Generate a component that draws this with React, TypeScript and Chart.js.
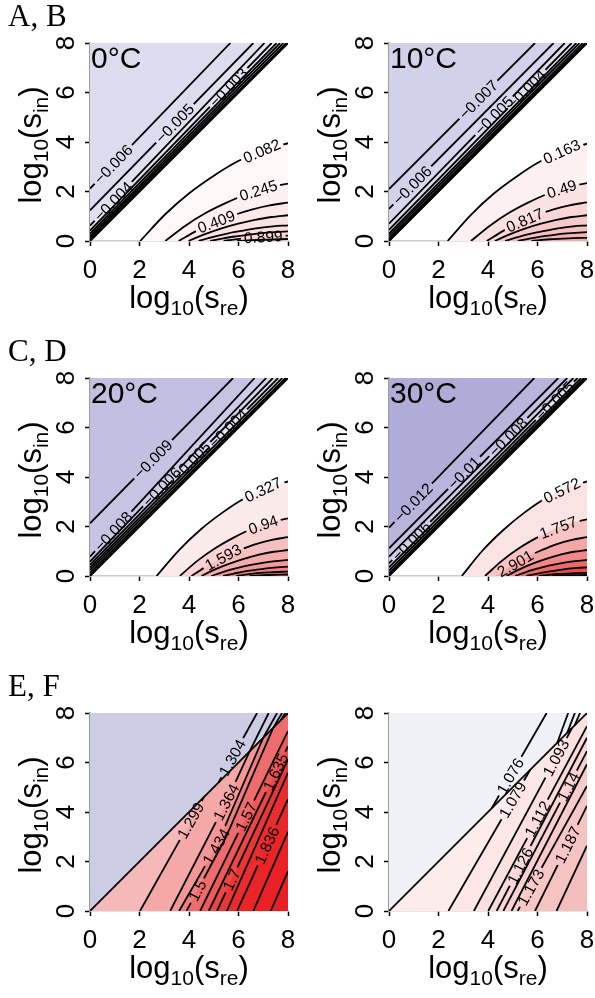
import React, { useEffect, useRef } from 'react';
import { Chart, registerables } from 'chart.js';
Chart.register(...registerables);

type Pt = [number, number];
type Lab = { set: 'b' | 'r' | 'l' | 'u'; i: number; x: number; text: string };

const TICKS = [0, 2, 4, 6, 8];
const TICK_LABELS = ['0', '2', '4', '6', '8'];
const DIAG: Pt[] = [[0, 0], [8, 8]];

// ---------- Panel A (0°C) ----------
const A_BLUE_LEFT = [2.12, 1.24, 0.62, 0.42, 0.3, 0.2, 0.12, 0.04];
const A_BLUE_TOP = [5.67, 6.6, 7.05, 7.34, 7.54, 7.68, 7.81, 7.93];
const A_RED: Pt[][] = [
  [[2.03, 0], [3.03, 1.07], [4.02, 1.94], [5.02, 2.65], [6.01, 3.24], [7.01, 3.67], [8, 3.95]],
  [[3.04, 0], [3.87, 0.63], [4.69, 1.14], [5.52, 1.55], [6.35, 1.9], [7.17, 2.16], [8, 2.32]],
  [[3.58, 0], [4.32, 0.42], [5.05, 0.76], [5.79, 1.04], [6.53, 1.27], [7.26, 1.44], [8, 1.55]],
  [[3.98, 0], [4.65, 0.28], [5.32, 0.51], [5.99, 0.7], [6.66, 0.85], [7.33, 0.97], [8, 1.04]],
  [[4.38, 0], [4.98, 0.17], [5.59, 0.31], [6.19, 0.42], [6.79, 0.52], [7.4, 0.59], [8, 0.63]],
  [[4.85, 0], [5.38, 0.11], [5.9, 0.19], [6.43, 0.26], [6.95, 0.32], [7.48, 0.36], [8, 0.39]],
  [[5.4, 0], [6.05, 0.09], [6.7, 0.15], [7.35, 0.19], [8, 0.22]],
  [[5.94, 0], [6.97, 0.05], [8, 0.08]],
];
const A_LABELS: Lab[] = [
  { set: 'b', i: 0, x: 0.94, text: '−0.006' },
  { set: 'b', i: 1, x: 3.43, text: '−0.005' },
  { set: 'b', i: 2, x: 0.94, text: '−0.004' },
  { set: 'b', i: 3, x: 5.6, text: '−0.003' },
  { set: 'r', i: 0, x: 6.94, text: '0.082' },
  { set: 'r', i: 1, x: 6.8, text: '0.245' },
  { set: 'r', i: 2, x: 5.1, text: '0.409' },
  { set: 'r', i: 6, x: 7.0, text: '0.899' },
];

// ---------- Panel B (10°C) ----------
const B_BLUE_LEFT = [2.1, 1.3, 0.7, 0.45, 0.3, 0.2, 0.1, 0.03];
const B_BLUE_TOP = [5.9, 6.65, 7.1, 7.38, 7.57, 7.7, 7.83, 7.93];
const B_RED: Pt[][] = [
  [[2.37, 0], [3.31, 1.06], [4.25, 1.93], [5.19, 2.63], [6.12, 3.22], [7.06, 3.65], [8, 3.93]],
  [[3.31, 0], [4.09, 0.63], [4.87, 1.15], [5.66, 1.57], [6.44, 1.92], [7.22, 2.18], [8, 2.34]],
  [[3.95, 0], [4.63, 0.42], [5.3, 0.76], [5.98, 1.05], [6.65, 1.28], [7.33, 1.45], [8, 1.56]],
  [[4.28, 0], [4.9, 0.28], [5.52, 0.51], [6.14, 0.7], [6.76, 0.85], [7.38, 0.97], [8, 1.04]],
  [[4.69, 0], [5.24, 0.17], [5.79, 0.31], [6.35, 0.42], [6.9, 0.52], [7.45, 0.59], [8, 0.63]],
  [[5.2, 0], [5.67, 0.1], [6.13, 0.18], [6.6, 0.24], [7.07, 0.3], [7.53, 0.33], [8, 0.36]],
  [[5.76, 0], [6.5, 0.07], [7.25, 0.11], [8, 0.13]],
];
const B_LABELS: Lab[] = [
  { set: 'b', i: 0, x: 3.61, text: '−0.007' },
  { set: 'b', i: 1, x: 0.94, text: '−0.006' },
  { set: 'b', i: 2, x: 4.24, text: '−0.005' },
  { set: 'b', i: 3, x: 5.56, text: '−0.004' },
  { set: 'r', i: 0, x: 6.98, text: '0.163' },
  { set: 'r', i: 1, x: 6.98, text: '0.49' },
  { set: 'r', i: 2, x: 5.49, text: '0.817' },
];

// ---------- Panel C (20°C) ----------
const C_BLUE_LEFT = [2.13, 0.78, 0.58, 0.45, 0.34, 0.24, 0.13, 0.04];
const C_BLUE_TOP = [5.78, 6.65, 7.12, 7.39, 7.6, 7.77, 7.9, 7.96];
const C_RED: Pt[][] = [
  [[2.69, 0], [3.58, 1.03], [4.46, 1.87], [5.35, 2.56], [6.23, 3.13], [7.12, 3.55], [8, 3.82]],
  [[3.63, 0], [4.36, 0.63], [5.09, 1.14], [5.82, 1.56], [6.54, 1.91], [7.27, 2.17], [8, 2.33]],
  [[4.1, 0], [4.75, 0.42], [5.4, 0.77], [6.05, 1.05], [6.7, 1.29], [7.35, 1.46], [8, 1.57]],
  [[4.5, 0], [5.08, 0.28], [5.67, 0.51], [6.25, 0.7], [6.83, 0.86], [7.42, 0.98], [8, 1.05]],
  [[4.9, 0], [5.42, 0.18], [5.93, 0.32], [6.45, 0.44], [6.97, 0.53], [7.48, 0.6], [8, 0.65]],
  [[5.38, 0], [5.82, 0.1], [6.25, 0.19], [6.69, 0.25], [7.13, 0.31], [7.56, 0.35], [8, 0.38]],
  [[5.9, 0], [6.6, 0.1], [7.3, 0.15], [8, 0.18]],
  [[6.45, 0], [7.2, 0.04], [8, 0.06]],
];
const C_LABELS: Lab[] = [
  { set: 'b', i: 0, x: 2.55, text: '−0.009' },
  { set: 'b', i: 1, x: 0.94, text: '−0.008' },
  { set: 'b', i: 2, x: 2.9, text: '−0.006' },
  { set: 'b', i: 3, x: 4.1, text: '−0.005' },
  { set: 'b', i: 4, x: 5.58, text: '−0.004' },
  { set: 'r', i: 0, x: 6.99, text: '0.327' },
  { set: 'r', i: 1, x: 7.0, text: '0.94' },
  { set: 'r', i: 2, x: 5.38, text: '1.593' },
];

// ---------- Panel D (30°C) ----------
const D_BLUE_LEFT = [1.95, 1.12, 0.78, 0.51, 0.35, 0.22, 0.11, 0.03];
const D_BLUE_TOP = [5.87, 6.84, 7.2, 7.45, 7.62, 7.76, 7.87, 7.95];
const D_RED: Pt[][] = [
  [[2.94, 0], [3.78, 1.03], [4.63, 1.87], [5.47, 2.56], [6.31, 3.13], [7.16, 3.55], [8, 3.82]],
  [[3.88, 0], [4.57, 0.62], [5.25, 1.12], [5.94, 1.53], [6.63, 1.88], [7.31, 2.13], [8, 2.29]],
  [[4.35, 0], [4.96, 0.42], [5.57, 0.77], [6.18, 1.05], [6.78, 1.29], [7.39, 1.46], [8, 1.57]],
  [[4.75, 0], [5.29, 0.28], [5.83, 0.51], [6.38, 0.7], [6.92, 0.86], [7.46, 0.98], [8, 1.05]],
  [[5.1, 0], [5.58, 0.18], [6.07, 0.32], [6.55, 0.44], [7.03, 0.53], [7.52, 0.6], [8, 0.65]],
  [[5.55, 0], [5.96, 0.09], [6.38, 0.17], [6.78, 0.23], [7.18, 0.29], [7.59, 0.33], [8, 0.35]],
  [[6.05, 0], [6.7, 0.07], [7.35, 0.11], [8, 0.13]],
  [[6.6, 0], [7.3, 0.03], [8, 0.04]],
];
const D_LABELS: Lab[] = [
  { set: 'b', i: 0, x: 0.98, text: '−0.012' },
  { set: 'b', i: 1, x: 3.03, text: '−0.01' },
  { set: 'b', i: 2, x: 4.82, text: '−0.008' },
  { set: 'b', i: 3, x: 0.9, text: '−0.006' },
  { set: 'b', i: 4, x: 6.7, text: '−0.005' },
  { set: 'r', i: 0, x: 6.98, text: '0.572' },
  { set: 'r', i: 1, x: 6.84, text: '1.757' },
  { set: 'r', i: 2, x: 5.1, text: '2.901' },
];

// ---------- Panel E ----------
const E_LOWER: Pt[][] = [
  [[2.02, 0], [4.6, 4.6]],
  [[3.24, 0], [5.5, 4.4], [6.45, 6.45]],
  [[3.6, 0], [5.1, 2.6], [7.0, 7.0]],
  [[3.9, 0], [5.5, 3.0], [7.4, 7.4]],
  [[4.45, 0], [8, 7.27]],
  [[4.8, 0], [8, 6.66]],
  [[5.13, 0], [8, 6.13]],
  [[5.53, 0], [8, 5.59]],
  [[5.94, 0], [8, 4.52]],
  [[6.6, 0], [8, 3.2]],
  [[7.3, 0], [8, 1.6]],
];
const E_UPPER: Pt[][] = [
  [[5.2, 5.2], [6.75, 8]],
  [[6.45, 6.45], [7.22, 8]],
  [[7.0, 7.0], [7.56, 8]],
  [[7.4, 7.4], [7.76, 8]],
  [[7.7, 7.7], [7.89, 8]],
];
const E_LABELS: Lab[] = [
  { set: 'l', i: 0, x: 4.07, text: '1.299' },
  { set: 'l', i: 1, x: 5.5, text: '1.364' },
  { set: 'l', i: 2, x: 5.1, text: '1.434' },
  { set: 'l', i: 3, x: 4.34, text: '1.5' },
  { set: 'l', i: 4, x: 6.31, text: '1.57' },
  { set: 'l', i: 5, x: 7.5, text: '1.635' },
  { set: 'l', i: 6, x: 5.72, text: '1.7' },
  { set: 'l', i: 8, x: 7.15, text: '1.836' },
  { set: 'u', i: 0, x: 5.75, text: '1.304' },
];

// ---------- Panel F ----------
const F_LOWER: Pt[][] = [
  [[2.4, 0], [5.7, 5.7]],
  [[3.43, 0], [7.4, 7.4]],
  [[4.01, 0], [8, 7.47]],
  [[4.35, 0], [8, 7.0]],
  [[4.62, 0], [8, 6.46]],
  [[4.95, 0], [8, 5.93]],
  [[5.2, 0], [8, 5.05]],
  [[5.9, 0], [8, 4.25]],
  [[6.77, 0], [8, 2.64]],
];
const F_UPPER: Pt[][] = [
  [[4.15, 4.15], [6.37, 8]],
  [[6.8, 6.8], [7.24, 8]],
  [[7.2, 7.2], [7.51, 8]],
  [[7.5, 7.5], [7.72, 8]],
];
const F_LABELS: Lab[] = [
  { set: 'l', i: 0, x: 5.0, text: '1.079' },
  { set: 'l', i: 1, x: 6.75, text: '1.093' },
  { set: 'l', i: 2, x: 6.0, text: '1.112' },
  { set: 'l', i: 3, x: 5.3, text: '1.126' },
  { set: 'l', i: 4, x: 7.25, text: '1.14' },
  { set: 'l', i: 6, x: 5.73, text: '1.173' },
  { set: 'l', i: 7, x: 7.22, text: '1.187' },
  { set: 'u', i: 0, x: 4.9, text: '1.076' },
];

// ---------- colours ----------
const A_BLUE_COLS = ['#dcdcee', '#dcdcee', '#e0e0f0', '#e4e4f2', '#e9e9f4', '#eeeef7', '#f3f3f9', '#f8f8fc'];
const B_BLUE_COLS = ['#d1d1e9', '#d1d1e9', '#d6d6ec', '#dcdcef', '#e3e3f3', '#eaeaf6', '#f2f2fa', '#f8f8fc'];
const C_BLUE_COLS = ['#c2bfe1', '#c6c3e3', '#cdcbe7', '#d5d3eb', '#dedcf0', '#e7e6f5', '#f0eff9', '#f8f8fc'];
const D_BLUE_COLS = ['#b0acd8', '#b8b4dc', '#c4c1e2', '#d0cee8', '#dcdaee', '#e7e6f4', '#f1f0f9', '#f9f9fc'];
const BLUE_BASE = '#fcfcfe';
const A_RED_COLS = ['#fdf7f7', '#fcf0f0', '#fbe9e9', '#fae3e3', '#f9dddd', '#f8d7d7', '#f7d1d1', '#f6cccc'];
const B_RED_COLS = ['#fcf0f0', '#fae2e2', '#f9d6d6', '#f7caca', '#f6bfbf', '#f4b4b4', '#f3aaaa'];
const C_RED_COLS = ['#fbeaea', '#f9d4d4', '#f7c0c0', '#f5acac', '#f39898', '#f18484', '#ef7272', '#ed6262'];
const D_RED_COLS = ['#fae3e3', '#f7c3c3', '#f4a5a5', '#f18787', '#ee696a', '#eb4b4d', '#e93032', '#e7191c'];
const E_UP_COL = '#ccccE4';
const E_LOW_BASE = '#f6b9b9';
const E_LOW_COLS = ['#f4a8a8', '#f29696', '#f08080', '#ee6c6c', '#ed5858', '#ec4646', '#eb3636', '#ea2c2f', '#e92528', '#e92125', '#e91f23'];
const F_UP_COL = '#f0f0f7';
const F_LOW_BASE = '#fdecec';
const F_LOW_COLS = ['#fce6e6', '#fbe0e0', '#fadada', '#f9d5d5', '#f8d0d0', '#f8cbcb', '#f7c7c7', '#f6c3c3', '#f5bebe'];

const SANS = "'Liberation Sans', Arial, Helvetica, sans-serif";
const SERIF = "'Liberation Serif', 'Times New Roman', serif";
const X_TITLE: [string, boolean][] = [['log', false], ['10', true], ['(s', false], ['re', true], [')', false]];
const Y_TITLE: [string, boolean][] = [['log', false], ['10', true], ['(s', false], ['in', true], [')', false]];

interface FillSpec { pts: Pt[]; fill: string; color: string; order: number; smooth: boolean }
interface LineSpec { pts: Pt[]; smooth: boolean; width: number }
interface LabelRef { line: number; x: number; text: string }
interface PanelSpec {
  left: number; top: number; w: number; h: number;
  letter?: string; temp?: string;
  fills: FillSpec[]; lines: LineSpec[]; labels: LabelRef[];
}

const LW = 1.8;

function buildAD(blueLeft: number[], blueTop: number[], red: Pt[][], blueCols: string[], redCols: string[], labels: Lab[]) {
  const fills: FillSpec[] = [];
  const lines: LineSpec[] = [];
  const bIdx: number[] = [];
  const rIdx: number[] = [];
  fills.push({ pts: DIAG, fill: 'end', color: BLUE_BASE, order: 2000, smooth: false });
  blueLeft.forEach((c, k) => {
    const pts: Pt[] = [[0, c], [blueTop[k], 8]];
    fills.push({ pts, fill: 'end', color: blueCols[k], order: 1500 + k, smooth: false });
    bIdx.push(lines.length);
    lines.push({ pts, smooth: false, width: LW });
  });
  lines.push({ pts: DIAG, smooth: false, width: 2 });
  red.forEach((pts, k) => {
    fills.push({ pts, fill: 'origin', color: redCols[k], order: 1000 - k, smooth: true });
    rIdx.push(lines.length);
    lines.push({ pts, smooth: true, width: LW });
  });
  const labs = labels.map((l) => ({ line: l.set === 'b' ? bIdx[l.i] : rIdx[l.i], x: l.x, text: l.text }));
  return { fills, lines, labels: labs };
}

function buildEF(lower: Pt[][], upper: Pt[][], upCol: string, lowBase: string, lowCols: string[], labels: Lab[]) {
  const fills: FillSpec[] = [];
  const lines: LineSpec[] = [];
  const lIdx: number[] = [];
  const uIdx: number[] = [];
  fills.push({ pts: DIAG, fill: 'end', color: upCol, order: 2000, smooth: false });
  fills.push({ pts: DIAG, fill: 'origin', color: lowBase, order: 1999, smooth: false });
  lower.forEach((pts, k) => {
    const last = pts[pts.length - 1];
    const poly: Pt[] = last[0] < 8 ? [...pts, [8, 8]] : pts;
    fills.push({ pts: poly, fill: 'origin', color: lowCols[k], order: 1000 - k, smooth: false });
    lIdx.push(lines.length);
    lines.push({ pts, smooth: false, width: LW });
  });
  lines.push({ pts: DIAG, smooth: false, width: 1.8 });
  upper.forEach((pts) => {
    uIdx.push(lines.length);
    lines.push({ pts, smooth: false, width: LW });
  });
  const labs = labels.map((l) => ({ line: l.set === 'l' ? lIdx[l.i] : uIdx[l.i], x: l.x, text: l.text }));
  return { fills, lines, labels: labs };
}

const PANELS: PanelSpec[] = [
  { left: 0, top: 0, w: 299, h: 335, letter: 'A, B', temp: '0°C', ...buildAD(A_BLUE_LEFT, A_BLUE_TOP, A_RED, A_BLUE_COLS, A_RED_COLS, A_LABELS) },
  { left: 299, top: 0, w: 296, h: 335, temp: '10°C', ...buildAD(B_BLUE_LEFT, B_BLUE_TOP, B_RED, B_BLUE_COLS, B_RED_COLS, B_LABELS) },
  { left: 0, top: 335, w: 299, h: 335, letter: 'C, D', temp: '20°C', ...buildAD(C_BLUE_LEFT, C_BLUE_TOP, C_RED, C_BLUE_COLS, C_RED_COLS, C_LABELS) },
  { left: 299, top: 335, w: 296, h: 335, temp: '30°C', ...buildAD(D_BLUE_LEFT, D_BLUE_TOP, D_RED, D_BLUE_COLS, D_RED_COLS, D_LABELS) },
  { left: 0, top: 670, w: 299, h: 328, letter: 'E, F', ...buildEF(E_LOWER, E_UPPER, E_UP_COL, E_LOW_BASE, E_LOW_COLS, E_LABELS) },
  { left: 299, top: 670, w: 296, h: 328, ...buildEF(F_LOWER, F_UPPER, F_UP_COL, F_LOW_BASE, F_LOW_COLS, F_LABELS) },
];

const LABEL_FONT = `15.5px ${SANS}`;

function labelGeom(chart: any, pts: Pt[], x: number) {
  const xs = chart.scales.x;
  const ys = chart.scales.y;
  let i = 0;
  for (; i < pts.length - 2; i++) if (x <= pts[i + 1][0]) break;
  const [x0, y0] = pts[i];
  const [x1, y1] = pts[i + 1];
  const t = x1 === x0 ? 0.5 : (x - x0) / (x1 - x0);
  const y = y0 + t * (y1 - y0);
  const dx = xs.getPixelForValue(x1) - xs.getPixelForValue(x0);
  const dy = ys.getPixelForValue(y1) - ys.getPixelForValue(y0);
  let a = Math.atan2(dy, dx);
  if (a > Math.PI / 2) a -= Math.PI;
  if (a < -Math.PI / 2) a += Math.PI;
  return { px: xs.getPixelForValue(x), py: ys.getPixelForValue(y), a };
}

function drawMixed(ctx: CanvasRenderingContext2D, parts: [string, boolean][], main: number, sub: number, drop: number) {
  const widths: number[] = [];
  let total = 0;
  parts.forEach(([t, s]) => {
    ctx.font = `${s ? sub : main}px ${SANS}`;
    const w = ctx.measureText(t).width;
    widths.push(w);
    total += w;
  });
  let x = -total / 2;
  ctx.textAlign = 'left';
  ctx.textBaseline = 'alphabetic';
  parts.forEach(([t, s], i) => {
    ctx.font = `${s ? sub : main}px ${SANS}`;
    ctx.fillText(t, x, s ? drop : 0);
    x += widths[i];
  });
}

function makeDeco(spec: PanelSpec, nFills: number) {
  let geoms: { px: number; py: number; a: number; w: number; text: string; ds: number }[] = [];
  return {
    id: 'panelDeco',
    beforeDatasetsDraw(chart: any) {
      const ctx: CanvasRenderingContext2D = chart.ctx;
      ctx.save();
      ctx.font = LABEL_FONT;
      geoms = spec.labels.map((l) => {
        const g = labelGeom(chart, spec.lines[l.line].pts, l.x);
        const w = ctx.measureText(l.text).width + 6;
        return { ...g, w, text: l.text, ds: nFills + l.line };
      });
      ctx.restore();
    },
    beforeDatasetDraw(chart: any, args: any) {
      const mine = geoms.filter((g) => g.ds === args.index);
      if (!mine.length) return;
      const ctx: CanvasRenderingContext2D = chart.ctx;
      ctx.save();
      ctx.beginPath();
      ctx.rect(0, 0, chart.width, chart.height);
      mine.forEach((g) => {
        const c = Math.cos(g.a);
        const s = Math.sin(g.a);
        const hw = g.w / 2;
        const hh = 5;
        const cs: [number, number][] = [[-hw, -hh], [hw, -hh], [hw, hh], [-hw, hh]];
        cs.forEach(([u, v], j) => {
          const X = g.px + u * c - v * s;
          const Y = g.py + u * s + v * c;
          if (j === 0) ctx.moveTo(X, Y);
          else ctx.lineTo(X, Y);
        });
        ctx.closePath();
      });
      ctx.clip('evenodd');
    },
    afterDatasetDraw(chart: any, args: any) {
      if (geoms.some((g) => g.ds === args.index)) chart.ctx.restore();
    },
    afterDatasetsDraw(chart: any) {
      const ctx: CanvasRenderingContext2D = chart.ctx;
      ctx.save();
      ctx.font = LABEL_FONT;
      ctx.fillStyle = '#000';
      ctx.textAlign = 'center';
      ctx.textBaseline = 'middle';
      geoms.forEach((g) => {
        ctx.save();
        ctx.translate(g.px, g.py);
        ctx.rotate(g.a);
        ctx.fillText(g.text, 0, 1);
        ctx.restore();
      });
      ctx.restore();
    },
    afterDraw(chart: any) {
      const ctx: CanvasRenderingContext2D = chart.ctx;
      const area = chart.chartArea;
      const xs = chart.scales.x;
      const ys = chart.scales.y;
      ctx.save();
      ctx.fillStyle = '#000';
      ctx.font = `26px ${SANS}`;
      ctx.textAlign = 'center';
      ctx.textBaseline = 'alphabetic';
      TICKS.forEach((v, i) => {
        ctx.fillText(TICK_LABELS[i], xs.getPixelForValue(v), area.bottom + 37);
      });
      TICKS.forEach((v, i) => {
        ctx.save();
        ctx.translate(area.left - 16, ys.getPixelForValue(v));
        ctx.rotate(-Math.PI / 2);
        ctx.fillText(TICK_LABELS[i], 0, 0);
        ctx.restore();
      });
      ctx.save();
      ctx.translate((area.left + area.right) / 2, area.bottom + 67);
      drawMixed(ctx, X_TITLE, 31, 21, 7);
      ctx.restore();
      ctx.save();
      ctx.translate(area.left - 49, (area.top + area.bottom) / 2 + 3);
      ctx.rotate(-Math.PI / 2);
      drawMixed(ctx, Y_TITLE, 31, 21, 7);
      ctx.restore();
      if (spec.temp) {
        ctx.font = `30px ${SANS}`;
        ctx.textAlign = 'left';
        ctx.fillText(spec.temp, area.left + 1, area.top + 25);
      }
      if (spec.letter) {
        ctx.font = `31px ${SERIF}`;
        ctx.textAlign = 'left';
        ctx.fillText(spec.letter, 8, 26);
      }
      ctx.restore();
    },
  };
}

function Panel({ spec }: { spec: PanelSpec }) {
  const ref = useRef<HTMLCanvasElement | null>(null);
  useEffect(() => {
    const canvas = ref.current;
    if (!canvas) return;
    const nF = spec.fills.length;
    const toXY = (pts: Pt[]) => pts.map(([x, y]) => ({ x, y }));
    const datasets: any[] = [];
    spec.fills.forEach((f) =>
      datasets.push({
        data: toXY(f.pts),
        borderWidth: 0,
        borderColor: 'rgba(0,0,0,0)',
        backgroundColor: f.color,
        fill: f.fill,
        pointRadius: 0,
        pointHoverRadius: 0,
        tension: 0,
        cubicInterpolationMode: f.smooth ? 'monotone' : 'default',
        order: f.order,
      })
    );
    spec.lines.forEach((l) =>
      datasets.push({
        data: toXY(l.pts),
        borderColor: '#000',
        borderWidth: l.width,
        backgroundColor: 'rgba(0,0,0,0)',
        fill: false,
        pointRadius: 0,
        pointHoverRadius: 0,
        tension: 0,
        cubicInterpolationMode: l.smooth ? 'monotone' : 'default',
        order: 0,
      })
    );
    const axisCommon = (border: string) => ({
      type: 'linear' as const,
      min: 0,
      max: 8,
      ticks: { stepSize: 2, display: false },
      grid: { drawOnChartArea: false, tickLength: 5, tickColor: '#000', tickWidth: 1.5 },
      border: { color: border, width: 1.5 },
    });
    const chart = new Chart(canvas, {
      type: 'line',
      data: { datasets },
      options: {
        responsive: false,
        animation: false,
        events: [],
        layout: { padding: { left: 0, top: 43, right: spec.w - 288, bottom: 0 }, autoPadding: false },
        plugins: { legend: { display: false }, tooltip: { enabled: false } },
        scales: {
          x: { ...axisCommon('#cccccc'), afterFit: (s: any) => { s.height = spec.h - 241; } },
          y: { ...axisCommon('#9a9a9a'), afterFit: (s: any) => { s.width = 90; } },
        },
      } as any,
      plugins: [makeDeco(spec, nF) as any],
    });
    return () => chart.destroy();
  }, [spec]);
  return (
    <canvas
      ref={ref}
      width={spec.w}
      height={spec.h}
      style={{ position: 'absolute', left: spec.left, top: spec.top, width: spec.w, height: spec.h }}
    />
  );
}

export default function App() {
  return (
    <div style={{ position: 'absolute', left: 0, top: 0, width: 595, height: 998, overflow: 'hidden', background: '#fff' }}>
      {PANELS.map((p, i) => (
        <Panel key={i} spec={p} />
      ))}
    </div>
  );
}
